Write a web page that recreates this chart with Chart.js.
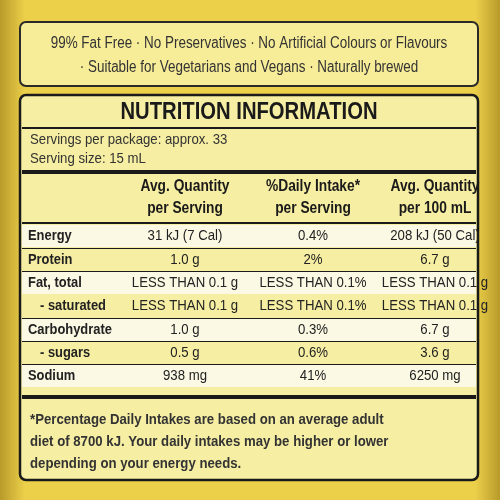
<!DOCTYPE html>
<html><head><meta charset="utf-8">
<script src="https://cdn.jsdelivr.net/npm/chart.js@4"></script>
<style>html,body{margin:0;padding:0;background:#e8c640}</style>
</head><body>
<div style="width:500px;height:500px"><canvas id="c" width="500" height="500"></canvas></div>
<script>
const topLines = ["99% Fat Free · No Preservatives · No Artificial Colours or Flavours","· Suitable for Vegetarians and Vegans · Naturally brewed"];
const title = "NUTRITION INFORMATION";
const servingLines = ["Servings per package: approx. 33","Serving size: 15 mL"];
const headers = [["Avg. Quantity","per Serving"],["%Daily Intake*","per Serving"],["Avg. Quantity","per 100 mL"]];
const nutrients = ["Energy","Protein","Fat, total","  - saturated","Carbohydrate","  - sugars","Sodium"];
const perServing = ["31 kJ (7 Cal)","1.0 g","LESS THAN 0.1 g","LESS THAN 0.1 g","1.0 g","0.5 g","938 mg"];
const dailyIntake = ["0.4%","2%","LESS THAN 0.1%","LESS THAN 0.1%","0.3%","0.6%","41%"];
const per100 = ["208 kJ (50 Cal)","6.7 g","LESS THAN 0.1 g","LESS THAN 0.1 g","6.7 g","3.6 g","6250 mg"];
const footLines = ["*Percentage Daily Intakes are based on an average adult","diet of 8700 kJ. Your daily intakes may be higher or lower","depending on your energy needs."];

function rr(ctx,x,y,w,h,r){ctx.beginPath();ctx.moveTo(x+r,y);ctx.arcTo(x+w,y,x+w,y+h,r);ctx.arcTo(x+w,y+h,x,y+h,r);ctx.arcTo(x,y+h,x,y,r);ctx.arcTo(x,y,x+w,y,r);ctx.closePath();}
function T(ctx,s,x,y,sc){const w=ctx.measureText(s).width;ctx.fillText(s,x,y,w*sc);}
const labelPlugin={id:'label',beforeDraw(chart){
 const ctx=chart.ctx;ctx.save();
 const g=ctx.createLinearGradient(0,0,500,0);g.addColorStop(0,'#b89a2a');g.addColorStop(0.05,'#ecd04a');g.addColorStop(0.95,'#ecd04a');g.addColorStop(1,'#b89a2a');
 ctx.fillStyle=g;ctx.fillRect(0,0,500,500);
 const F='"Liberation Sans",Arial,sans-serif';
 rr(ctx,20,22,458,64,6);ctx.fillStyle='#f7ec98';ctx.fill();ctx.lineWidth=2;ctx.strokeStyle='#2a2a2a';ctx.stroke();
 ctx.fillStyle='#333';ctx.textBaseline='middle';ctx.textAlign='center';ctx.font='16px '+F;
 T(ctx,topLines[0],249,44,0.84);T(ctx,topLines[1],249,68,0.84);
 rr(ctx,20,95,458,385,6);ctx.fillStyle='#f6eea2';ctx.fill();
 const rowY=[236,260,283,306,330,353,376];
 ctx.fillStyle='#fbf8e4';[0,2,4,6].forEach(i=>ctx.fillRect(22,rowY[i]-11,454,22));
 rr(ctx,20,95,458,385,6);ctx.lineWidth=2.5;ctx.strokeStyle='#1a1a1a';ctx.stroke();
 ctx.fillStyle='#1a1a1a';ctx.font='bold 23px '+F;T(ctx,title,249,113,0.88);
 ctx.fillRect(22,127,454,2);
 ctx.textAlign='left';ctx.font='15px '+F;ctx.fillStyle='#333';
 T(ctx,servingLines[0],30,140,0.88);T(ctx,servingLines[1],30,159,0.88);
 ctx.fillStyle='#1a1a1a';ctx.fillRect(22,170,454,4);
 const cx=[185,313,435];
 ctx.textAlign='center';ctx.font='bold 16px '+F;
 headers.forEach((h,i)=>{T(ctx,h[0],cx[i],187,0.86);T(ctx,h[1],cx[i],209,0.86);});
 ctx.fillRect(22,222,454,2);
 [248,271,318,341,364].forEach(y=>ctx.fillRect(22,y,454,1));
 ctx.fillStyle='#222';
 nutrients.forEach((n,i)=>{ctx.textAlign='left';ctx.font='bold 15px '+F;T(ctx,n.trim(),n.startsWith('  ')?40:28,rowY[i],0.86);
  ctx.font='15px '+F;ctx.textAlign='center';
  [perServing[i],dailyIntake[i],per100[i]].forEach((v,k)=>{const w=ctx.measureText(v).width;ctx.fillText(v,cx[k],rowY[i],Math.min(w*0.88,118));});});
 ctx.fillStyle='#1a1a1a';ctx.fillRect(22,395,454,4);
 ctx.textAlign='left';ctx.font='bold 15px '+F;ctx.fillStyle='#333';
 footLines.forEach((l,i)=>T(ctx,l,30,420+i*22,0.88));
 ctx.restore();}};
new Chart(document.getElementById('c'),{type:'bar',data:{labels:nutrients,datasets:[{data:[],label:'x'}]},
 options:{responsive:false,animation:false,events:[],plugins:{legend:{display:false},tooltip:{enabled:false}},scales:{x:{display:false},y:{display:false}}},
 plugins:[labelPlugin]});
</script></body></html>
